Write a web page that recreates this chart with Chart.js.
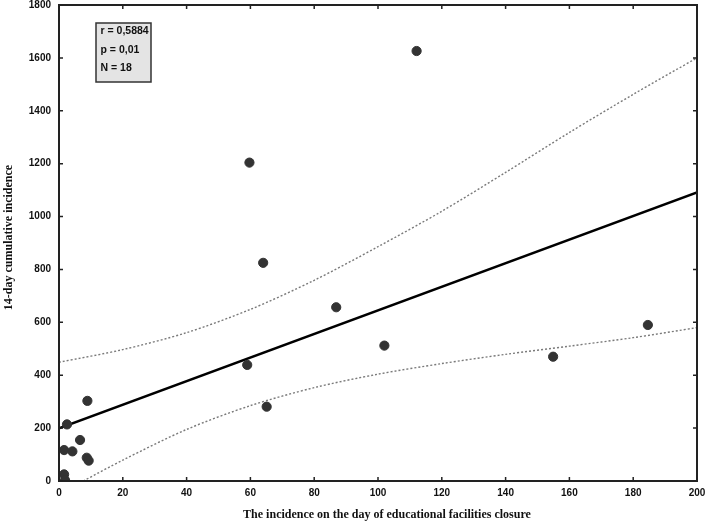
<!DOCTYPE html>
<html>
<head>
<meta charset="utf-8">
<script src="https://cdn.jsdelivr.net/npm/chart.js@4.4.1/dist/chart.umd.min.js"></script>
<style>
  html, body { margin: 0; padding: 0; background: #fff; }
</style>
</head>
<body>
<canvas id="chart" width="708" height="523"></canvas>
<script>
// ── data ─────────────────────────────────────────────────
const pointX = [112.1, 59.7, 64.0, 86.9, 102.0, 59.0, 65.1, 154.9, 184.6,
                8.9, 2.5, 6.6, 1.6, 4.2, 8.7, 9.3, 1.6, 1.9];
const pointY = [1626, 1204, 825, 657, 512, 439, 281, 470, 590,
                303, 214, 155, 117, 112, 88, 77, 25, 3];

const fitX = [0, 200];
const fitY = [199, 1091];

const upperX = [0, 20, 40, 60, 80, 100, 120, 140, 160, 180, 200];
const upperY = [449, 497, 561, 649, 759, 886, 1020, 1167, 1318, 1462, 1600];

const lowerX = [7.6, 20, 40, 60, 80, 100, 120, 140, 160, 180, 200];
const lowerY = [0, 79, 195, 285, 353, 404, 444, 479, 510, 542, 580];

const xTicks = [0, 20, 40, 60, 80, 100, 120, 140, 160, 180, 200];
const yTicks = [0, 200, 400, 600, 800, 1000, 1200, 1400, 1600, 1800];

const statLines = ['r = 0,5884', 'p = 0,01', 'N = 18'];
const xTitle = 'The incidence on the day of educational facilities closure';
const yTitle = '14-day cumulative incidence';

const zip = (xs, ys) => xs.map((x, i) => ({ x, y: ys[i] }));

const TICK_FONT = { family: "'Liberation Sans Narrow', 'Arial Narrow', 'Liberation Sans', sans-serif",
                    size: 10, weight: 'bold' };
const AXIS = '#222';

// no automatic label padding: the plot box is fixed
function fixBox(width, height) {
  return s => {
    if (width) s.width = width;
    if (height) s.height = height;
    s.paddingTop = s.paddingBottom = s.paddingLeft = s.paddingRight = 0;
  };
}

// ── frame, inward ticks, titles, stats box ───────────────
const framePlugin = {
  id: 'frame',
  afterDraw(chart) {
    const { ctx, chartArea: a, scales: { x, y } } = chart;
    ctx.save();
    ctx.strokeStyle = AXIS;
    ctx.lineWidth = 2;
    ctx.strokeRect(a.left, a.top, a.right - a.left, a.bottom - a.top);

    ctx.lineWidth = 1.5;
    ctx.beginPath();
    xTicks.forEach(v => {
      const px = x.getPixelForValue(v);
      ctx.moveTo(px, a.bottom); ctx.lineTo(px, a.bottom - 4);
      ctx.moveTo(px, a.top);    ctx.lineTo(px, a.top + 4);
    });
    yTicks.forEach(v => {
      const py = y.getPixelForValue(v);
      ctx.moveTo(a.left, py);  ctx.lineTo(a.left + 4, py);
      ctx.moveTo(a.right, py); ctx.lineTo(a.right - 4, py);
    });
    ctx.stroke();

    // axis titles
    ctx.fillStyle = '#111';
    ctx.font = "bold 12px 'Liberation Serif', 'Times New Roman', serif";
    ctx.textAlign = 'center';
    ctx.textBaseline = 'alphabetic';
    ctx.fillText(xTitle, 387, 517.5);
    ctx.translate(11.5, 237.5);
    ctx.rotate(-Math.PI / 2);
    ctx.fillText(yTitle, 0, 0);
    ctx.setTransform(1, 0, 0, 1, 0, 0);

    // stats box
    ctx.fillStyle = '#e4e4e4';
    ctx.fillRect(96, 23, 55, 59);
    ctx.strokeStyle = '#333';
    ctx.lineWidth = 1.5;
    ctx.strokeRect(96, 23, 55, 59);
    ctx.fillStyle = '#111';
    ctx.font = "bold 10.5px 'Liberation Sans', Arial, sans-serif";
    ctx.textAlign = 'left';
    ctx.textBaseline = 'middle';
    statLines.forEach((t, i) => ctx.fillText(t, 100.5, 31.5 + i * 18.2));
    ctx.restore();
  }
};

new Chart(document.getElementById('chart'), {
  type: 'scatter',
  data: {
    datasets: [
      {
        label: 'cases',
        data: zip(pointX, pointY),
        backgroundColor: '#333',
        borderColor: '#333',
        pointRadius: 4.6,
        pointHoverRadius: 4.6,
      },
      {
        label: 'fit',
        data: zip(fitX, fitY),
        showLine: true,
        borderColor: '#000',
        borderWidth: 2.5,
        pointRadius: 0,
      },
      {
        label: 'upper 95%',
        data: zip(upperX, upperY),
        showLine: true,
        borderColor: '#7a7a7a',
        borderWidth: 1.4,
        borderDash: [2, 2],
        tension: 0.3,
        pointRadius: 0,
      },
      {
        label: 'lower 95%',
        data: zip(lowerX, lowerY),
        showLine: true,
        borderColor: '#7a7a7a',
        borderWidth: 1.4,
        borderDash: [2, 2],
        tension: 0.3,
        pointRadius: 0,
      },
    ],
  },
  options: {
    responsive: false,
    animation: false,
    events: [],
    layout: { autoPadding: false, padding: { top: 5, right: 11, left: 0, bottom: 0 } },
    plugins: { legend: { display: false }, tooltip: { enabled: false } },
    scales: {
      x: {
        min: 0, max: 200,
        border: { display: false },
        grid: { display: false, drawTicks: false },
        ticks: { stepSize: 20, padding: 6, color: '#111', font: TICK_FONT, maxRotation: 0,
                 callback: v => String(v) },
        afterFit: fixBox(0, 42),
      },
      y: {
        min: 0, max: 1800,
        border: { display: false },
        grid: { display: false, drawTicks: false },
        ticks: { stepSize: 200, padding: 8, color: '#111', font: TICK_FONT,
                 callback: v => String(v) },
        afterFit: fixBox(59, 0),
      },
    },
  },
  plugins: [framePlugin],
});
</script>
</body>
</html>
